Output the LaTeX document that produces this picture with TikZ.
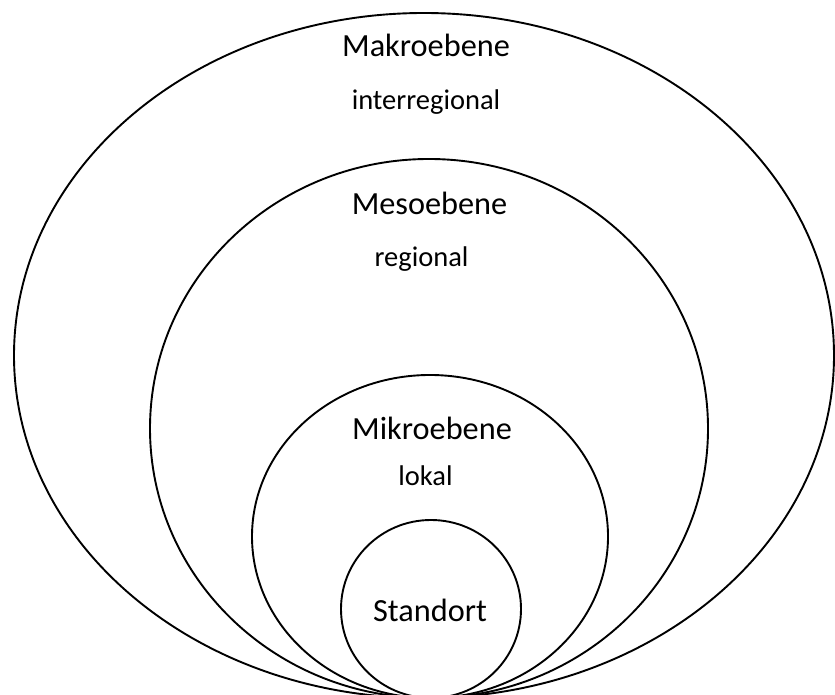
\documentclass[tikz,border=0pt]{standalone}
\usepackage{fontspec}
\setmainfont{Carlito}
\tikzset{
  ring/.style={draw=black,line width=1.9pt},
  level/.style={inner sep=0pt,anchor=base,font=\fontsize{32.3}{36}\selectfont},
  scale label/.style={inner sep=0pt,anchor=base,font=\fontsize{28.5}{32}\selectfont}
}
\begin{document}
\begin{tikzpicture}[x=1pt,y=1pt]
        \useasboundingbox (0,0) rectangle (835,695);
        \begin{scope}[every path/.style={ring}]
          \draw (424,339.5) ellipse [x radius=410,y radius=342.5];
          \draw (429,266.5) ellipse [x radius=279,y radius=269.5];
          \draw (430,158.5) ellipse [x radius=178,y radius=161.5];
          \draw (431,86) ellipse [x radius=90,y radius=89];
        \end{scope}
        \begin{scope}[every node/.style={level}]
          \node (makro) at (426,638) {Makroebene};
          \node (meso) at (429.5,480) {Mesoebene};
          \node (mikro) at (432,255) {Mikroebene};
          \node (standort) at (430,73) {Standort};
        \end{scope}
        \begin{scope}[every node/.style={scale label}]
          \node (interregional) at (426,585) {interregional};
          \node (regional) at (421.5,428) {regional};
          \node (lokal) at (425.5,209) {lokal};
        \end{scope}
      \end{tikzpicture}
\end{document}
